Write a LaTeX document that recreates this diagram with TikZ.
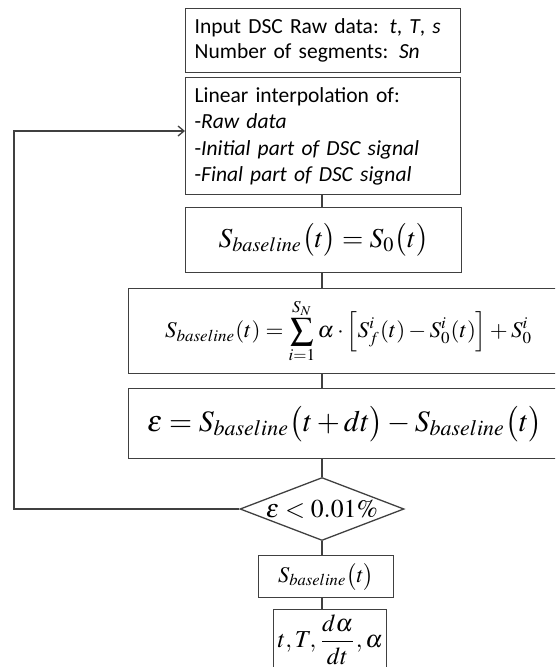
\documentclass[tikz,border=0pt]{standalone}
\usepackage{mathptmx}
\usepackage[no-math]{fontspec}
\setmainfont{Carlito}
\usepackage{graphicx}
\usetikzlibrary{shapes.geometric,arrows.meta}
\definecolor{linec}{HTML}{404040}
\tikzset{
  tbox/.style={draw=linec, line width=1.3pt, anchor=north west, inner xsep=9pt,
    text width=257pt, align=left, minimum width=275pt,
    font=\fontsize{21.5pt}{25pt}\selectfont},
  mbox/.style={draw=linec, line width=1.3pt, anchor=north west, inner sep=0pt},
  decide/.style={draw=linec, line width=1.3pt, diamond, aspect=2.6, inner sep=0pt,
    minimum width=164pt, minimum height=63pt},
  link/.style={draw=linec, line width=1.3pt},
}
\begin{document}
\begin{tikzpicture}[x=1pt,y=-1pt]
\useasboundingbox (0,0) rectangle (555,667);
\clip (0,0) rectangle (555,667);
\node[tbox, minimum height=64pt] (b1) at (185,8)
  {Input DSC Raw data: \textit{t}, \textit{T}, \textit{s}\\
   Number of segments: \textit{Sn}};
\node[tbox, minimum height=117pt, font=\fontsize{21.5pt}{26.5pt}\selectfont] (b2) at (185,77)
  {Linear interpolation of:\\
   -\textit{Raw data}\\
   -\textit{Initial part of DSC signal}\\
   -\textit{Final part of DSC signal}};
\node[mbox, minimum width=276pt, minimum height=65pt] (b3) at (185,207)
  {\resizebox{210pt}{!}{$S_{baseline}\bigl(t\bigr)=S_0\bigl(t\bigr)$}};
\node[mbox, minimum width=440pt, minimum height=85pt] (b4) at (128,288)
  {\resizebox*{367pt}{64pt}{$\displaystyle S_{baseline}(t)=\sum_{i=1}^{S_N}\alpha\cdot\Bigl[S_f^i(t)-S_0^i(t)\Bigr]+S_0^i$}};
\node[mbox, minimum width=432pt, minimum height=70pt] (b5) at (128,388)
  {\resizebox{395pt}{!}{$\varepsilon = S_{baseline}\bigl(t+dt\bigr)-S_{baseline}\bigl(t\bigr)$}};
\node[decide] (d) at (322,509)
  {\resizebox{112pt}{!}{$\varepsilon<0.01\%$}};
\node[mbox, minimum width=135pt, minimum height=42pt] (b6) at (258,555)
  {\resizebox{96pt}{!}{$S_{baseline}\bigl(t\bigr)$}};
\node[mbox, minimum width=113pt, minimum height=60pt] (b7) at (273,609)
  {\resizebox{105pt}{!}{$t,T,\displaystyle\frac{d\alpha}{dt},\alpha$}};
\coordinate (ax) at (322,0);
\coordinate (loopc) at (14,131);
\draw[link] (ax |- b2.south) -- (ax |- b3.north);
\draw[link] (ax |- b3.south) -- (ax |- b4.north);
\draw[link] (ax |- b4.south) -- (ax |- b5.north);
\draw[link] (ax |- b5.south) -- (d.north);
\draw[link] (d.south) -- (ax |- b6.north);
\draw[link] (ax |- b6.south) -- (ax |- b7.north);
\draw[link, -{Straight Barb[length=6pt,width=10pt]}] (d.west) -| (loopc) -- (b2.west |- loopc);
\end{tikzpicture}
\end{document}
